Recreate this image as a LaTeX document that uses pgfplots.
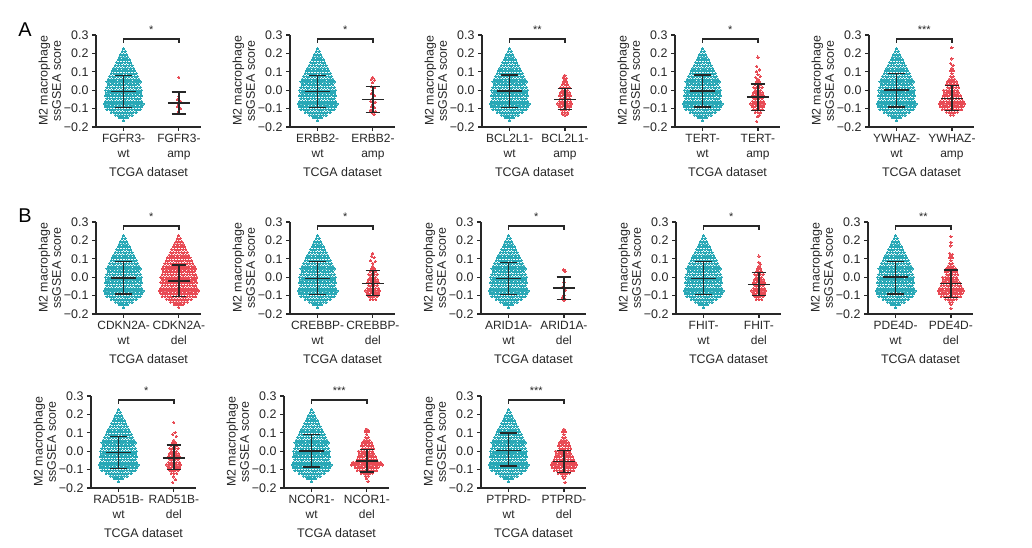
\documentclass[border=0pt]{standalone}
\usepackage{fontspec}
\setmainfont{Liberation Sans}
\usepackage{pgfplots}
\usepackage{pgfplotstable}
\pgfplotsset{compat=1.18}
\definecolor{wtc}{RGB}{40,168,182}
\definecolor{mutc}{RGB}{232,74,84}
\definecolor{axc}{RGB}{40,40,40}

% shared wild-type swarm (offsets around the category)
\pgfplotstableread[row sep=\\]{
x y\\
0 0.225\\
-0.025 0.21\\ 0.025 0.21\\
-0.05 0.195\\ 0 0.195\\ 0.05 0.195\\
-0.075 0.18\\ -0.025 0.18\\ 0.025 0.18\\ 0.075 0.18\\
-0.1 0.165\\ -0.05 0.165\\ 0 0.165\\ 0.05 0.165\\ 0.1 0.165\\
-0.125 0.15\\ -0.075 0.15\\ -0.025 0.15\\ 0.025 0.15\\ 0.075 0.15\\ 0.125 0.15\\
-0.15 0.135\\ -0.1 0.135\\ -0.05 0.135\\ 0 0.135\\ 0.05 0.135\\ 0.1 0.135\\ 0.15 0.135\\
-0.175 0.12\\ -0.125 0.12\\ -0.075 0.12\\ -0.025 0.12\\ 0.025 0.12\\ 0.075 0.12\\ 0.125 0.12\\ 0.175 0.12\\
-0.2 0.105\\ -0.15 0.105\\ -0.1 0.105\\ -0.05 0.105\\ 0 0.105\\ 0.05 0.105\\ 0.1 0.105\\ 0.15 0.105\\ 0.2 0.105\\
-0.225 0.09\\ -0.175 0.09\\ -0.125 0.09\\ -0.075 0.09\\ -0.025 0.09\\ 0.025 0.09\\ 0.075 0.09\\ 0.125 0.09\\ 0.175 0.09\\ 0.225 0.09\\
-0.25 0.075\\ -0.2 0.075\\ -0.15 0.075\\ -0.1 0.075\\ -0.05 0.075\\ 0 0.075\\ 0.05 0.075\\ 0.1 0.075\\ 0.15 0.075\\ 0.2 0.075\\ 0.25 0.075\\
-0.275 0.06\\ -0.225 0.06\\ -0.175 0.06\\ -0.125 0.06\\ -0.075 0.06\\ -0.025 0.06\\ 0.025 0.06\\ 0.075 0.06\\ 0.125 0.06\\ 0.175 0.06\\ 0.225 0.06\\ 0.275 0.06\\
-0.3 0.045\\ -0.25 0.045\\ -0.2 0.045\\ -0.15 0.045\\ -0.1 0.045\\ -0.05 0.045\\ 0 0.045\\ 0.05 0.045\\ 0.1 0.045\\ 0.15 0.045\\ 0.2 0.045\\ 0.25 0.045\\ 0.3 0.045\\
-0.275 0.03\\ -0.225 0.03\\ -0.175 0.03\\ -0.125 0.03\\ -0.075 0.03\\ -0.025 0.03\\ 0.025 0.03\\ 0.075 0.03\\ 0.125 0.03\\ 0.175 0.03\\ 0.225 0.03\\ 0.275 0.03\\
-0.3 0.015\\ -0.25 0.015\\ -0.2 0.015\\ -0.15 0.015\\ -0.1 0.015\\ -0.05 0.015\\ 0 0.015\\ 0.05 0.015\\ 0.1 0.015\\ 0.15 0.015\\ 0.2 0.015\\ 0.25 0.015\\ 0.3 0.015\\
-0.325 0\\ -0.275 0\\ -0.225 0\\ -0.175 0\\ -0.125 0\\ -0.075 0\\ -0.025 0\\ 0.025 0\\ 0.075 0\\ 0.125 0\\ 0.175 0\\ 0.225 0\\ 0.275 0\\ 0.325 0\\
-0.3 -0.015\\ -0.25 -0.015\\ -0.2 -0.015\\ -0.15 -0.015\\ -0.1 -0.015\\ -0.05 -0.015\\ 0 -0.015\\ 0.05 -0.015\\ 0.1 -0.015\\ 0.15 -0.015\\ 0.2 -0.015\\ 0.25 -0.015\\ 0.3 -0.015\\
-0.325 -0.03\\ -0.275 -0.03\\ -0.225 -0.03\\ -0.175 -0.03\\ -0.125 -0.03\\ -0.075 -0.03\\ -0.025 -0.03\\ 0.025 -0.03\\ 0.075 -0.03\\ 0.125 -0.03\\ 0.175 -0.03\\ 0.225 -0.03\\ 0.275 -0.03\\ 0.325 -0.03\\
-0.3 -0.045\\ -0.25 -0.045\\ -0.2 -0.045\\ -0.15 -0.045\\ -0.1 -0.045\\ -0.05 -0.045\\ 0 -0.045\\ 0.05 -0.045\\ 0.1 -0.045\\ 0.15 -0.045\\ 0.2 -0.045\\ 0.25 -0.045\\ 0.3 -0.045\\
-0.325 -0.06\\ -0.275 -0.06\\ -0.225 -0.06\\ -0.175 -0.06\\ -0.125 -0.06\\ -0.075 -0.06\\ -0.025 -0.06\\ 0.025 -0.06\\ 0.075 -0.06\\ 0.125 -0.06\\ 0.175 -0.06\\ 0.225 -0.06\\ 0.275 -0.06\\ 0.325 -0.06\\
-0.35 -0.075\\ -0.3 -0.075\\ -0.25 -0.075\\ -0.2 -0.075\\ -0.15 -0.075\\ -0.1 -0.075\\ -0.05 -0.075\\ 0 -0.075\\ 0.05 -0.075\\ 0.1 -0.075\\ 0.15 -0.075\\ 0.2 -0.075\\ 0.25 -0.075\\ 0.3 -0.075\\ 0.35 -0.075\\
-0.325 -0.09\\ -0.275 -0.09\\ -0.225 -0.09\\ -0.175 -0.09\\ -0.125 -0.09\\ -0.075 -0.09\\ -0.025 -0.09\\ 0.025 -0.09\\ 0.075 -0.09\\ 0.125 -0.09\\ 0.175 -0.09\\ 0.225 -0.09\\ 0.275 -0.09\\ 0.325 -0.09\\
-0.3 -0.105\\ -0.25 -0.105\\ -0.2 -0.105\\ -0.15 -0.105\\ -0.1 -0.105\\ -0.05 -0.105\\ 0 -0.105\\ 0.05 -0.105\\ 0.1 -0.105\\ 0.15 -0.105\\ 0.2 -0.105\\ 0.25 -0.105\\ 0.3 -0.105\\
-0.225 -0.12\\ -0.175 -0.12\\ -0.125 -0.12\\ -0.075 -0.12\\ -0.025 -0.12\\ 0.025 -0.12\\ 0.075 -0.12\\ 0.125 -0.12\\ 0.175 -0.12\\ 0.225 -0.12\\
-0.15 -0.135\\ -0.1 -0.135\\ -0.05 -0.135\\ 0 -0.135\\ 0.05 -0.135\\ 0.1 -0.135\\ 0.15 -0.135\\
-0.075 -0.15\\ -0.025 -0.15\\ 0.025 -0.15\\ 0.075 -0.15\\
0 -0.165\\
}\wt

% larger altered-group swarm
\pgfplotstableread[row sep=\\]{
x y\\
0 0.12\\
-0.025 0.105\\ 0.025 0.105\\
0 0.09\\
-0.025 0.075\\ 0.025 0.075\\
-0.05 0.06\\ 0 0.06\\ 0.05 0.06\\
-0.075 0.045\\ -0.025 0.045\\ 0.025 0.045\\ 0.075 0.045\\
-0.1 0.03\\ -0.05 0.03\\ 0 0.03\\ 0.05 0.03\\ 0.1 0.03\\
-0.075 0.015\\ -0.025 0.015\\ 0.025 0.015\\ 0.075 0.015\\ 0.125 0.015\\
-0.15 0\\ -0.1 0\\ -0.05 0\\ 0 0\\ 0.05 0\\ 0.1 0\\
-0.125 -0.015\\ -0.075 -0.015\\ -0.025 -0.015\\ 0.025 -0.015\\ 0.075 -0.015\\ 0.125 -0.015\\
-0.15 -0.03\\ -0.1 -0.03\\ -0.05 -0.03\\ 0 -0.03\\ 0.05 -0.03\\ 0.1 -0.03\\ 0.15 -0.03\\
-0.175 -0.045\\ -0.125 -0.045\\ -0.075 -0.045\\ -0.025 -0.045\\ 0.025 -0.045\\ 0.075 -0.045\\ 0.125 -0.045\\ 0.175 -0.045\\
-0.2 -0.06\\ -0.15 -0.06\\ -0.1 -0.06\\ -0.05 -0.06\\ 0 -0.06\\ 0.05 -0.06\\ 0.1 -0.06\\ 0.15 -0.06\\ 0.2 -0.06\\
-0.225 -0.075\\ -0.175 -0.075\\ -0.125 -0.075\\ -0.075 -0.075\\ -0.025 -0.075\\ 0.025 -0.075\\ 0.075 -0.075\\ 0.125 -0.075\\ 0.175 -0.075\\ 0.225 -0.075\\
-0.2 -0.09\\ -0.15 -0.09\\ -0.1 -0.09\\ -0.05 -0.09\\ 0 -0.09\\ 0.05 -0.09\\ 0.1 -0.09\\ 0.15 -0.09\\ 0.2 -0.09\\
-0.175 -0.105\\ -0.125 -0.105\\ -0.075 -0.105\\ -0.025 -0.105\\ 0.025 -0.105\\ 0.075 -0.105\\ 0.125 -0.105\\ 0.175 -0.105\\
-0.1 -0.12\\ -0.05 -0.12\\ 0 -0.12\\ 0.05 -0.12\\ 0.1 -0.12\\
-0.025 -0.135\\ 0.025 -0.135\\
}\redA

% medium altered-group swarm
\pgfplotstableread[row sep=\\]{
x y\\
0 0.06\\
-0.025 0.045\\ 0.025 0.045\\
-0.05 0.03\\ 0 0.03\\ 0.05 0.03\\
-0.075 0.015\\ -0.025 0.015\\ 0.025 0.015\\ 0.075 0.015\\
-0.05 0\\ 0 0\\ 0.05 0\\
-0.075 -0.015\\ -0.025 -0.015\\ 0.025 -0.015\\ 0.075 -0.015\\
-0.1 -0.03\\ -0.05 -0.03\\ 0 -0.03\\ 0.05 -0.03\\ 0.1 -0.03\\
-0.075 -0.045\\ -0.025 -0.045\\ 0.025 -0.045\\ 0.075 -0.045\\
-0.1 -0.06\\ -0.05 -0.06\\ 0 -0.06\\ 0.05 -0.06\\ 0.1 -0.06\\
-0.125 -0.075\\ -0.075 -0.075\\ -0.025 -0.075\\ 0.025 -0.075\\ 0.075 -0.075\\ 0.125 -0.075\\
-0.1 -0.09\\ -0.05 -0.09\\ 0 -0.09\\ 0.05 -0.09\\ 0.1 -0.09\\
-0.075 -0.105\\ -0.025 -0.105\\ 0.025 -0.105\\ 0.075 -0.105\\
-0.05 -0.12\\ 0 -0.12\\ 0.05 -0.12\\
}\redB

\pgfplotsset{
  panel/.style={
    clip marker paths=true,
    scale only axis, width=105bp, height=92bp, anchor=south west,
    xmin=-0.5, xmax=1.4, ymin=-0.2, ymax=0.3,
    axis x line*=bottom, axis y line*=left,
    axis line style={-, line width=1.2bp, axc},
    xtick={0,1}, ytick={-0.2,-0.1,0,0.1,0.2,0.3},
    yticklabels={−0.2,−0.1,0.0,0.1,0.2,0.3},
    minor tick num=0,
    tick align=outside, major tick length=4bp,
    every tick/.style={line width=1.2bp, axc},
    xticklabel style={align=center, font=\fontsize{12}{15}\selectfont, text=black!85},
    yticklabel style={font=\fontsize{12.5}{15}\selectfont, text=black!85},
    ylabel={M2 macrophage\\ssGSEA score},
    ylabel style={at={(axis description cs:-0.44,0.5)}, anchor=center, align=center,
      font=\fontsize{12.5}{13.5}\selectfont, text=black!85},
    xlabel={TCGA dataset},
    xlabel style={at={(axis description cs:0.5,-0.49)}, anchor=center,
      font=\fontsize{12.5}{15}\selectfont, text=black!85},
    clip=false,
  },
  wtm/.style={only marks, mark=*, mark size=1.1bp, color=wtc, mark options={line width=0pt}},
  mum/.style={only marks, mark=*, mark size=1.1bp, color=mutc, mark options={line width=0pt}},
  eb/.style={line width=1.5bp, black!85, mark=none},
  br/.style={line width=1.3bp, axc, mark=none},
}

\newcommand{\ebwt}[3]{%
  \addplot[eb] coordinates {(-0.22,#1) (0.22,#1)};
  \addplot[eb] coordinates {(0,#2) (0,#3)};
  \addplot[eb] coordinates {(-0.16,#2) (0.16,#2)};
  \addplot[eb] coordinates {(-0.16,#3) (0.16,#3)};}
\newcommand{\ebmut}[3]{%
  \addplot[eb] coordinates {(0.8,#1) (1.2,#1)};
  \addplot[eb] coordinates {(1,#2) (1,#3)};
  \addplot[eb] coordinates {(0.87,#2) (1.13,#2)};
  \addplot[eb] coordinates {(0.87,#3) (1.13,#3)};}
\newcommand{\sig}[1]{%
  \addplot[br] coordinates {(0,0.257) (0,0.278) (1,0.278) (1,0.257)};
  \node[font=\fontsize{11}{11}\selectfont, text=black!85] at (axis cs:0.5,0.327) {#1};}

\begin{document}
\begin{tikzpicture}
\path[use as bounding box] (0,0) rectangle (1032bp,548bp);
\node[font=\fontsize{20}{20}\selectfont] at (25bp,518bp) {A};
\node[font=\fontsize{20}{20}\selectfont] at (25bp,332bp) {B};

% ---------- Row A ----------
\begin{axis}[panel, at={(96bp,421bp)}, xticklabels={{FGFR3-\\wt},{FGFR3-\\amp}}]
\addplot[wtm] table {\wt};
\addplot[mum] coordinates {(1,0.07) (1,-0.035) (0.97,-0.05) (1.03,-0.06) (1,-0.075) (0.97,-0.09) (1.03,-0.1) (1,-0.115) (0.98,-0.125)};
\ebwt{-0.008}{-0.095}{0.08}
\ebmut{-0.07}{-0.13}{-0.01}
\sig{*}
\end{axis}

\begin{axis}[panel, at={(290bp,421bp)}, xticklabels={{ERBB2-\\wt},{ERBB2-\\amp}}]
\addplot[wtm] table {\wt};
\addplot[mum] coordinates {(1,0.07) (0.97,0.06) (1.03,0.055) (1,0.04) (0.97,0.02) (1.03,0.015) (1,0.0) (0.97,-0.02) (1.03,-0.03) (1,-0.045) (0.96,-0.06) (1.04,-0.065) (1,-0.08) (0.97,-0.09) (1.03,-0.095) (1,-0.105) (0.95,-0.11) (1.05,-0.115) (0.98,-0.12) (1.02,-0.13)};
\ebwt{-0.008}{-0.095}{0.08}
\ebmut{-0.05}{-0.12}{0.02}
\sig{*}
\end{axis}

\begin{axis}[panel, at={(482bp,421bp)}, xticklabels={{BCL2L1-\\wt},{BCL2L1-\\amp}}]
\addplot[wtm] table {\wt};
\addplot[mum] table[x expr=\thisrow{x}+1] {\redB};
\addplot[mum] coordinates {(1,0.08) (0.97,0.07) (1.03,0.065) (1,-0.135) (0.96,-0.13) (1.04,-0.13)};
\ebwt{-0.005}{-0.095}{0.082}
\ebmut{-0.05}{-0.105}{0.01}
\sig{**}
\end{axis}

\begin{axis}[panel, at={(675bp,421bp)}, xticklabels={{TERT-\\wt},{TERT-\\amp}}]
\addplot[wtm] table {\wt};
\addplot[mum] table[x expr=\thisrow{x}+1] {\redB};
\addplot[mum] coordinates {(1,0.18) (0.98,0.13) (1.03,0.11) (0.97,0.1) (1,0.085) (1.04,0.075) (0.96,0.07) (1,-0.145) (1.03,-0.135) (0.98,-0.17)};
\ebwt{-0.005}{-0.09}{0.082}
\ebmut{-0.037}{-0.11}{0.035}
\sig{*}
\end{axis}

\begin{axis}[panel, at={(869bp,421bp)}, xticklabels={{YWHAZ-\\wt},{YWHAZ-\\amp}}]
\addplot[wtm] table {\wt};
\addplot[mum] table[x expr=\thisrow{x}+1] {\redA};
\addplot[mum] coordinates {(1,0.23) (1,0.17) (0.98,0.145) (1.02,0.135)};
\ebwt{0.0}{-0.09}{0.09}
\ebmut{-0.045}{-0.11}{0.025}
\sig{***}
\end{axis}

% ---------- Row B ----------
\begin{axis}[panel, at={(96bp,234bp)}, xticklabels={{CDKN2A-\\wt},{CDKN2A-\\del}}]
\addplot[wtm] table {\wt};
\addplot[mum] table[x expr=\thisrow{x}+1] {\wt};
\ebwt{-0.005}{-0.09}{0.085}
\ebmut{-0.02}{-0.105}{0.065}
\sig{*}
\end{axis}

\begin{axis}[panel, at={(290bp,234bp)}, xticklabels={{CREBBP-\\wt},{CREBBP-\\del}}]
\addplot[wtm] table {\wt};
\addplot[mum] table[x expr=\thisrow{x}+1] {\redB};
\addplot[mum] coordinates {(1,0.13) (0.98,0.115) (1.02,0.105) (0.96,0.09) (1.04,0.085) (1,0.075)};
\ebwt{-0.008}{-0.095}{0.085}
\ebmut{-0.033}{-0.1}{0.037}
\sig{*}
\end{axis}

\begin{axis}[panel, at={(481bp,234bp)}, xticklabels={{ARID1A-\\wt},{ARID1A-\\del}}]
\addplot[wtm] table {\wt};
\addplot[mum] coordinates {(1,0.04) (1.02,0.03) (1,-0.03) (0.97,-0.055) (1.03,-0.07) (1,-0.1) (0.97,-0.11) (1.03,-0.12) (1,-0.125)};
\ebwt{-0.008}{-0.095}{0.08}
\ebmut{-0.06}{-0.12}{0.0}
\sig{*}
\end{axis}

\begin{axis}[panel, at={(676bp,234bp)}, xticklabels={{FHIT-\\wt},{FHIT-\\del}}]
\addplot[wtm] table {\wt};
\addplot[mum] table[x expr=\thisrow{x}+1] {\redB};
\addplot[mum] coordinates {(1,0.115) (1,0.08) (1.03,0.07)};
\ebwt{-0.008}{-0.095}{0.085}
\ebmut{-0.04}{-0.1}{0.025}
\sig{*}
\end{axis}

\begin{axis}[panel, at={(868bp,234bp)}, xticklabels={{PDE4D-\\wt},{PDE4D-\\del}}]
\addplot[wtm] table {\wt};
\addplot[mum] table[x expr=\thisrow{x}+1] {\redA};
\addplot[mum] coordinates {(1,0.22) (1,0.19) (1,0.17) (0.98,0.13) (1.03,0.125) (1,-0.15) (1,-0.17)};
\ebwt{0.0}{-0.09}{0.085}
\ebmut{-0.035}{-0.11}{0.04}
\sig{**}
\end{axis}

% ---------- Row C ----------
\begin{axis}[panel, at={(91bp,60bp)}, xticklabels={{RAD51B-\\wt},{RAD51B-\\del}}]
\addplot[wtm] table {\wt};
\addplot[mum] table[x expr=\thisrow{x}+1] {\redB};
\addplot[mum] coordinates {(1,0.155) (1.02,0.1) (0.98,0.09) (1.04,0.08) (1,-0.14) (1.03,-0.155) (0.98,-0.17)};
\ebwt{-0.008}{-0.095}{0.08}
\ebmut{-0.037}{-0.1}{0.035}
\sig{*}
\end{axis}

\begin{axis}[panel, at={(284bp,60bp)}, xticklabels={{NCOR1-\\wt},{NCOR1-\\del}}]
\addplot[wtm] table {\wt};
\addplot[mum] table[x expr=\thisrow{x}+1] {\redA};
\addplot[mum] coordinates {(0.98,0.115) (1.03,0.11) (0.72,-0.075) (1.28,-0.075) (0.75,-0.06) (1.25,-0.06) (1,-0.15) (1.02,-0.165)};
\ebwt{0.0}{-0.085}{0.09}
\ebmut{-0.052}{-0.113}{0.008}
\sig{***}
\end{axis}

\begin{axis}[panel, at={(481bp,60bp)}, xticklabels={{PTPRD-\\wt},{PTPRD-\\del}}]
\addplot[wtm] table {\wt};
\addplot[mum] table[x expr=\thisrow{x}+1] {\redA};
\addplot[mum] coordinates {(1,-0.15) (1.02,-0.17)};
\ebwt{0.005}{-0.08}{0.1}
\ebmut{-0.055}{-0.115}{0.005}
\sig{***}
\end{axis}
\end{tikzpicture}
\end{document}
